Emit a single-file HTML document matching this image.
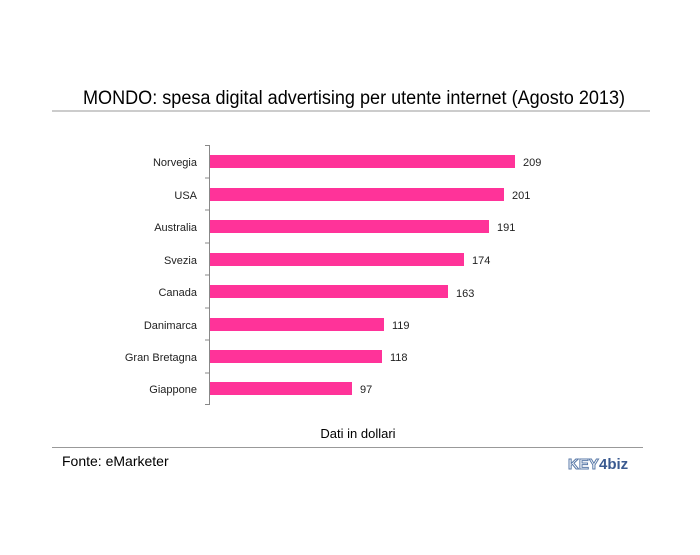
<!DOCTYPE html>
<html><head><meta charset="utf-8"><style>body{margin:0;background:#fff}</style></head><body>
<svg width="700" height="550" xmlns="http://www.w3.org/2000/svg" font-family="Liberation Sans, Arial, sans-serif">
<text x="83" y="104" font-size="19" textLength="542" lengthAdjust="spacingAndGlyphs" fill="#000">MONDO: spesa digital advertising per utente internet (Agosto 2013)</text>
<line x1="52" y1="111" x2="650" y2="111" stroke="#999" stroke-width="1"/>
<g fill="#ff3399">
<rect x="210" y="155" width="305" height="13"/>
<rect x="210" y="188" width="294" height="13"/>
<rect x="210" y="220" width="279" height="13"/>
<rect x="210" y="253" width="254" height="13"/>
<rect x="210" y="285" width="238" height="13"/>
<rect x="210" y="318" width="174" height="13"/>
<rect x="210" y="350" width="172" height="13"/>
<rect x="210" y="382" width="142" height="13"/>
</g>
<g stroke="#888" stroke-width="1">
<line x1="209.5" y1="145" x2="209.5" y2="405"/>
<line x1="205" y1="145.5" x2="209" y2="145.5"/>
<line x1="205" y1="178" x2="209" y2="178"/>
<line x1="205" y1="210" x2="209" y2="210"/>
<line x1="205" y1="243" x2="209" y2="243"/>
<line x1="205" y1="275" x2="209" y2="275"/>
<line x1="205" y1="308" x2="209" y2="308"/>
<line x1="205" y1="340" x2="209" y2="340"/>
<line x1="205" y1="373" x2="209" y2="373"/>
<line x1="205" y1="404.5" x2="209" y2="404.5"/>
</g>
<g font-size="11" fill="#222" text-anchor="end">
<text x="197" y="166">Norvegia</text>
<text x="197" y="199">USA</text>
<text x="197" y="231">Australia</text>
<text x="197" y="264">Svezia</text>
<text x="197" y="296">Canada</text>
<text x="197" y="329">Danimarca</text>
<text x="197" y="361">Gran Bretagna</text>
<text x="197" y="393">Giappone</text>
</g>
<g font-size="11" fill="#222">
<text x="523" y="166">209</text>
<text x="512" y="199">201</text>
<text x="497" y="231">191</text>
<text x="472" y="264">174</text>
<text x="456" y="297">163</text>
<text x="392" y="329">119</text>
<text x="390" y="361">118</text>
<text x="360" y="393">97</text>
</g>
<text x="358" y="438" font-size="13" text-anchor="middle" fill="#000">Dati in dollari</text>
<line x1="52" y1="447.5" x2="643" y2="447.5" stroke="#999" stroke-width="1"/>
<text x="62" y="466" font-size="14" fill="#000">Fonte: eMarketer</text>
<text x="568" y="469" font-size="15" font-weight="bold" fill="#fff" stroke="#5a7aa8" stroke-width="1">KEY</text>
<text x="599" y="469" font-size="15" font-weight="bold" fill="#3a5a90">4biz</text>
</svg>
</body></html>
